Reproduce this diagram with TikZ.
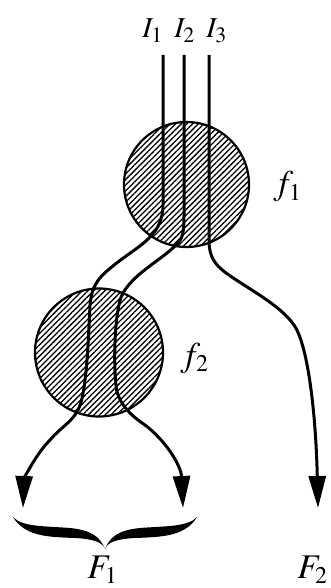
\documentclass[tikz,border=0pt]{standalone}
\usepackage{mathptmx}
\usetikzlibrary{arrows.meta,patterns.meta}
\begin{document}
\begin{tikzpicture}[x=0.5pt,y=-0.5pt,
  blob/.style={circle,draw,line width=1.1pt,inner sep=0pt,pattern={Lines[angle=45,distance=2pt,line width=0.65pt]}},
  lab/.style={anchor=base west,inner sep=0pt},
  flow/.style={line width=1.5pt},
  outflow/.style={flow,-{Triangle[length=16pt,width=8.5pt]}}]
\useasboundingbox (0,0) rectangle (331,588);
\node[blob,minimum size=62.5pt] (f1) at (186.5,184.5) {};
\node[blob,minimum size=64pt] (f2) at (99,352.5) {};
\node[lab] (l1) at (142,38) {\Large$I_1$}; \node[lab] (l2) at (174,38) {\Large$I_2$}; \node[lab] (l3) at (206,38) {\Large$I_3$};
\node[lab] (lf1) at (273,195) {\LARGE$f_1$}; \node[lab] (lf2) at (180,366) {\LARGE$f_2$};
\coordinate (i1) at (163,55); \coordinate (i2) at (184,55); \coordinate (i3) at (209,55);
\coordinate (o1) at (23,508); \coordinate (o2) at (183,508); \coordinate (o3) at (318,508);
\draw[outflow] (i1) -- (163,205) .. controls (163,235) and (140,245) .. (118,262)
  .. controls (100,276) and (92,283) .. (90,305) .. controls (88,350) and (86,395) .. (78,410)
  .. controls (72,422) and (60,428) .. (50,440) .. controls (35,455) and (24,480) .. (o1);
\draw[outflow] (i2) -- (184,215) .. controls (184,236) and (182,240) .. (174,247)
  .. controls (158,262) and (132,275) .. (122,295) .. controls (114,312) and (113,372) .. (117,392)
  .. controls (121,405) and (130,415) .. (145,425) .. controls (165,440) and (181,465) .. (o2);
\draw[outflow] (i3) -- (209,243) .. controls (210,256) and (213,263) .. (226,273)
  .. controls (250,290) and (280,305) .. (294,325) .. controls (309,347) and (316,420) .. (o3);
\begin{scope}[shift={(105,0)}]
\foreach \s in {1,-1}
  \fill[xscale=\s] (-92,517) .. controls (-80,537) and (-55,537) .. (-30,538)
    .. controls (-10,539) and (-2,543) .. (0,549) .. controls (-5,536) and (-15,530) .. (-35,528)
    .. controls (-60,526) and (-83,527) .. (-92,517) -- cycle;
\end{scope}
\node[lab] (F1) at (87,578) {\LARGE$F_1$}; \node[lab] (F2) at (297,578) {\LARGE$F_2$};
\end{tikzpicture}
\end{document}
